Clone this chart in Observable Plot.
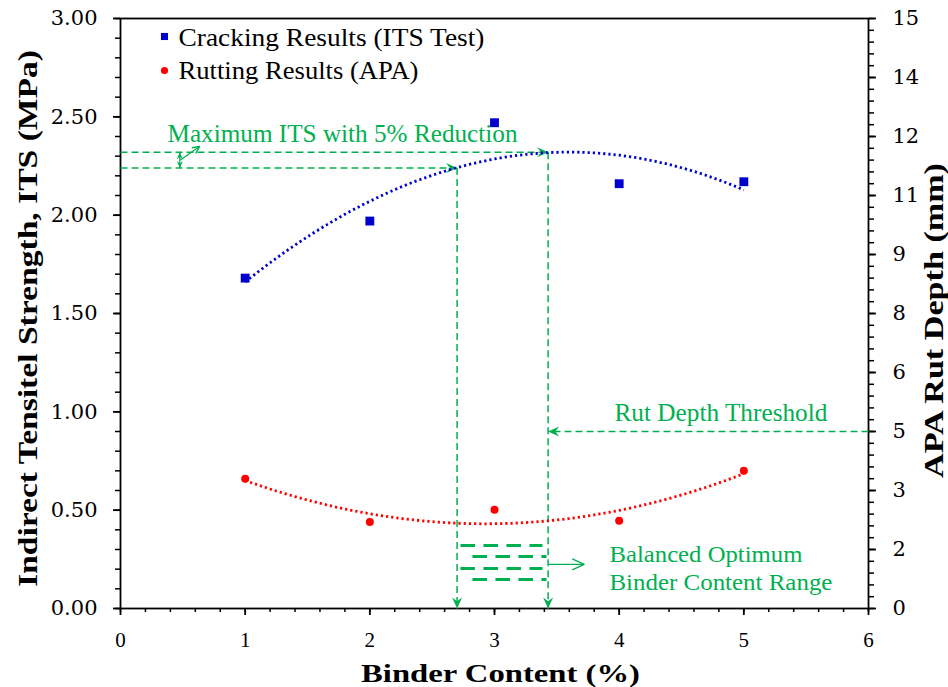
<!DOCTYPE html>
<html><head><meta charset="utf-8">
<script src="https://cdn.jsdelivr.net/npm/d3@7"></script>
<script src="https://cdn.jsdelivr.net/npm/@observablehq/plot@0.6"></script>
<style>body{margin:0;background:#fff;} svg{display:block}</style>
</head><body><div id="chart"></div>
<script>
// ---- data ----
const binderContent = [1, 2, 3, 4, 5];
const itsMPa = [1.68, 1.97, 2.47, 2.16, 2.17];
const rutDepthMm = [3.30, 2.20, 2.51, 2.23, 3.50];
const xTicks = [0, 1, 2, 3, 4, 5, 6];
const itsTicks = [0, 0.5, 1, 1.5, 2, 2.5, 3];
const rutTicksMm = [0, 1.5, 3, 4.5, 6, 7.5, 9, 10.5, 12, 13.5, 15];
const rutTickLabels = ["0", "2", "3", "5", "6", "8", "9", "11", "12", "14", "15"];
const MM_PER_MPA = 5;
const itsLevels = [2.32, 2.24];     // maximum ITS, and with 5% reduction
const rangeBounds = [2.70, 3.43];   // balanced optimum binder content range
const rutThresholdMm = 4.5;
const legendLabels = ["Cracking Results (ITS Test)", "Rutting Results (APA)"];
const titles = ["Binder Content (%)", "Indirect Tensitel Strength, ITS (MPa)", "APA Rut Depth (mm)"];

const BLUE = "#0000CC", RED = "#FF0000", GREEN = "#00B050";
const ns = "http://www.w3.org/2000/svg";

// quadratic least-squares trendline (like Excel polynomial order 2)
function quadFit(xs, ys) {
  const S = [0,0,0,0,0], T = [0,0,0];
  xs.forEach((x, i) => { for (let k = 0; k < 5; k++) S[k] += x ** k; for (let k = 0; k < 3; k++) T[k] += ys[i] * x ** k; });
  const A = [[S[0],S[1],S[2],T[0]],[S[1],S[2],S[3],T[1]],[S[2],S[3],S[4],T[2]]];
  for (let i = 0; i < 3; i++) {
    for (let j = i + 1; j < 3; j++) { const f = A[j][i] / A[i][i]; for (let k = i; k < 4; k++) A[j][k] -= f * A[i][k]; }
  }
  const c = [0,0,0];
  for (let i = 2; i >= 0; i--) { let s = A[i][3]; for (let k = i + 1; k < 3; k++) s -= A[i][k] * c[k]; c[i] = s / A[i][i]; }
  return x => c[0] + c[1] * x + c[2] * x * x;
}
const itsFit = quadFit(binderContent, itsMPa);
const rutFit = quadFit(binderContent, rutDepthMm.map(v => v / MM_PER_MPA));
const xs = d3.range(1, 5.0001, 0.05);
const itsCurve = xs.map(x => ({x, y: itsFit(x)}));
const rutCurve = xs.map(x => ({x, y: rutFit(x)}));

const itsPts = binderContent.map((x, i) => ({x, y: itsMPa[i]}));
const rutPts = binderContent.map((x, i) => ({x, y: rutDepthMm[i] / MM_PER_MPA}));

// markers
function filledHead(len, wid) {
  return () => {
    const m = document.createElementNS(ns, "marker");
    m.setAttribute("viewBox", `${-len} ${-wid/2} ${len} ${wid}`);
    m.setAttribute("markerWidth", len); m.setAttribute("markerHeight", wid);
    m.setAttribute("markerUnits", "userSpaceOnUse"); m.setAttribute("orient", "auto");
    m.setAttribute("refX", 0); m.setAttribute("refY", 0); m.setAttribute("overflow", "visible");
    const p = document.createElementNS(ns, "path");
    p.setAttribute("d", `M0,0L${-len},${-wid/2}L${-len*0.65},0L${-len},${wid/2}Z`);
    p.setAttribute("fill", GREEN); p.setAttribute("stroke", "none");
    m.appendChild(p); return m;
  };
}
function openHead(len, wid) {
  return () => {
    const m = document.createElementNS(ns, "marker");
    m.setAttribute("viewBox", `${-len} ${-wid/2} ${len} ${wid}`);
    m.setAttribute("markerWidth", len); m.setAttribute("markerHeight", wid);
    m.setAttribute("markerUnits", "userSpaceOnUse"); m.setAttribute("orient", "auto");
    m.setAttribute("refX", 0); m.setAttribute("refY", 0); m.setAttribute("overflow", "visible");
    const p = document.createElementNS(ns, "path");
    p.setAttribute("d", `M${-len},${-wid/2}L0,0L${-len},${wid/2}`);
    p.setAttribute("fill", "none"); p.setAttribute("stroke", GREEN); p.setAttribute("stroke-width", 1.4);
    p.setAttribute("stroke-dasharray", "none");
    m.appendChild(p); return m;
  };
}

const rutY = rutThresholdMm / MM_PER_MPA;
const guideLinks = [
  {x1: 0, y1: itsLevels[0], x2: rangeBounds[1], y2: itsLevels[0]},
  {x1: 0, y1: itsLevels[1], x2: rangeBounds[0], y2: itsLevels[1]},
  {x1: rangeBounds[0], y1: itsLevels[1], x2: rangeBounds[0], y2: 0},
  {x1: rangeBounds[1], y1: itsLevels[0], x2: rangeBounds[1], y2: 0},
  {x1: 6, y1: rutY, x2: rangeBounds[1], y2: rutY}
];
const midLevel = (itsLevels[0] + itsLevels[1]) / 2;
const doubleArrow = [
  {x1: 0.476, y1: midLevel, x2: 0.476, y2: itsLevels[0]},
  {x1: 0.476, y1: midLevel, x2: 0.476, y2: itsLevels[1]}
];
const pointerArrows = [
  {x1: 0.481, y1: midLevel, x2: 0.634, y2: 2.349},
  {x1: rangeBounds[1], y1: 0.224, x2: 3.72, y2: 0.224}
];
const hatchRows = [
  {x1: 2.727, x2: 3.385, y: 0.320},
  {x1: 2.823, x2: 3.417, y: 0.264},
  {x1: 2.727, x2: 3.385, y: 0.203},
  {x1: 2.823, x2: 3.417, y: 0.147}
];
const notes = [
  {x: 0.377, y: 2.412, text: "Maximum ITS with 5% Reduction", size: 25},
  {x: 3.962, y: 0.992, text: "Rut Depth Threshold", size: 25},
  {x: 3.922, y: 0.276, text: "Balanced Optimum", size: 24},
  {x: 3.922, y: 0.132, text: "Binder Content Range", size: 24}
];

const minor = (a, b, s) => d3.range(a, b + 1e-9, s).map(v => +v.toFixed(4));

const chart = Plot.plot({
  width: 948, height: 687,
  marginLeft: 120, marginRight: 80, marginTop: 18, marginBottom: 79,
  x: {domain: [0, 6]},
  y: {domain: [0, 3]},
  style: {fontFamily: "Liberation Serif", background: "white", color: "black", overflow: "visible"},
  marks: [
    // axes
    Plot.axisY({anchor: "left", ticks: minor(0, 3, 0.1), tickSize: 5, strokeWidth: 1.5, tickFormat: () => "", label: null}),
    Plot.axisY({anchor: "left", ticks: itsTicks, tickSize: 7, tickPadding: 16, strokeWidth: 1.8,
      tickFormat: d => d.toFixed(2), fontSize: 21, fontFamily: "DejaVu Serif", label: null}),
    Plot.axisY({anchor: "right", ticks: minor(0, 15, 0.3).map(v => v / MM_PER_MPA), tickSize: 5, strokeWidth: 1.5, tickFormat: () => "", label: null}),
    Plot.axisY({anchor: "right", ticks: rutTicksMm.map(v => v / MM_PER_MPA), tickSize: 7, tickPadding: 17, strokeWidth: 1.8,
      tickFormat: d => rutTickLabels[Math.round(d * MM_PER_MPA / 1.5)], fontSize: 21, fontFamily: "DejaVu Serif", label: null}),
    Plot.axisX({anchor: "bottom", ticks: minor(0, 6, 0.2), tickSize: 4, strokeWidth: 1.5, tickFormat: () => "", label: null}),
    Plot.axisX({anchor: "bottom", ticks: xTicks, tickSize: 7, tickPadding: 17, strokeWidth: 1.8,
      tickFormat: d => String(d), fontSize: 21, fontFamily: "Liberation Serif", label: null}),
    Plot.frame({stroke: "black", strokeWidth: 1.8}),

    // axis titles
    Plot.text([titles[0]], {frameAnchor: "bottom", text: d => d, dx: 6, dy: 65, fontSize: 26, fontWeight: "bold",
      textAnchor: "middle", lineAnchor: "middle"}),
    Plot.text([titles[1]], {frameAnchor: "left", text: d => d, dx: -92, dy: 5, rotate: -90, fontSize: 27, fontWeight: "bold",
      textAnchor: "middle", lineAnchor: "middle"}),
    Plot.text([titles[2]], {frameAnchor: "right", text: d => d, dx: 66, dy: 7, rotate: -90, fontSize: 27, fontWeight: "bold",
      textAnchor: "middle", lineAnchor: "middle"}),

    // green guides
    Plot.link(guideLinks, {x1: "x1", y1: "y1", x2: "x2", y2: "y2", stroke: GREEN, strokeWidth: 1.5,
      strokeDasharray: "7 4", markerEnd: filledHead(11, 10)}),
    Plot.link(doubleArrow, {x1: "x1", y1: "y1", x2: "x2", y2: "y2", stroke: GREEN, strokeWidth: 1.3, markerEnd: filledHead(7, 6)}),
    Plot.link(pointerArrows.slice(0, 1), {x1: "x1", y1: "y1", x2: "x2", y2: "y2", stroke: GREEN, strokeWidth: 1.2, markerEnd: openHead(7, 7)}),
    Plot.link(pointerArrows.slice(1), {x1: "x1", y1: "y1", x2: "x2", y2: "y2", stroke: GREEN, strokeWidth: 1.3, markerEnd: openHead(12, 11)}),
    Plot.link(hatchRows, {x1: "x1", x2: "x2", y1: "y", y2: "y", stroke: GREEN, strokeWidth: 3, strokeDasharray: "14.5 8.5"}),
    Plot.text(notes, {x: "x", y: "y", text: "text", fontSize: "size", textAnchor: "start", lineAnchor: "middle", fill: GREEN}),

    // trendlines (dotted)
    Plot.line(itsCurve, {x: "x", y: "y", stroke: BLUE, strokeWidth: 2.8, strokeDasharray: "2.2 3", strokeLinecap: "butt"}),
    Plot.line(rutCurve, {x: "x", y: "y", stroke: RED, strokeWidth: 2.8, strokeDasharray: "2.2 3", strokeLinecap: "butt"}),

    // data
    Plot.dot(itsPts, {x: "x", y: "y", symbol: "square", r: 5, fill: BLUE, stroke: "none"}),
    Plot.dot(rutPts, {x: "x", y: "y", symbol: "circle", r: 4, fill: RED, stroke: "none"}),

    // legend
    Plot.dot([0], {frameAnchor: "top-left", dx: 44, dy: 18, symbol: "square", r: 4, fill: BLUE, stroke: "none"}),
    Plot.dot([0], {frameAnchor: "top-left", dx: 44, dy: 52, symbol: "circle", r: 3.6, fill: RED, stroke: "none"}),
    Plot.text([legendLabels[0]], {frameAnchor: "top-left", text: d => d, dx: 58, dy: 19, fontSize: 25, textAnchor: "start", lineAnchor: "middle"}),
    Plot.text([legendLabels[1]], {frameAnchor: "top-left", text: d => d, dx: 58, dy: 52, fontSize: 25, textAnchor: "start", lineAnchor: "middle"})
  ]
});

// stretch texts to the reference's measured widths
const lengths = new Map([
  [titles[0], 279], [titles[1], 537], [titles[2], 315],
  [legendLabels[0], 306], [legendLabels[1], 240],
  ["Maximum ITS with 5% Reduction", 350], ["Rut Depth Threshold", 213],
  ["Balanced Optimum", 193], ["Binder Content Range", 223]
]);
d3.select(chart).selectAll("text").each(function () {
  const t = this.textContent;
  if (lengths.has(t)) { this.setAttribute("textLength", lengths.get(t)); this.setAttribute("lengthAdjust", "spacingAndGlyphs"); }
});
document.getElementById("chart").appendChild(chart);
</script>
</body></html>
